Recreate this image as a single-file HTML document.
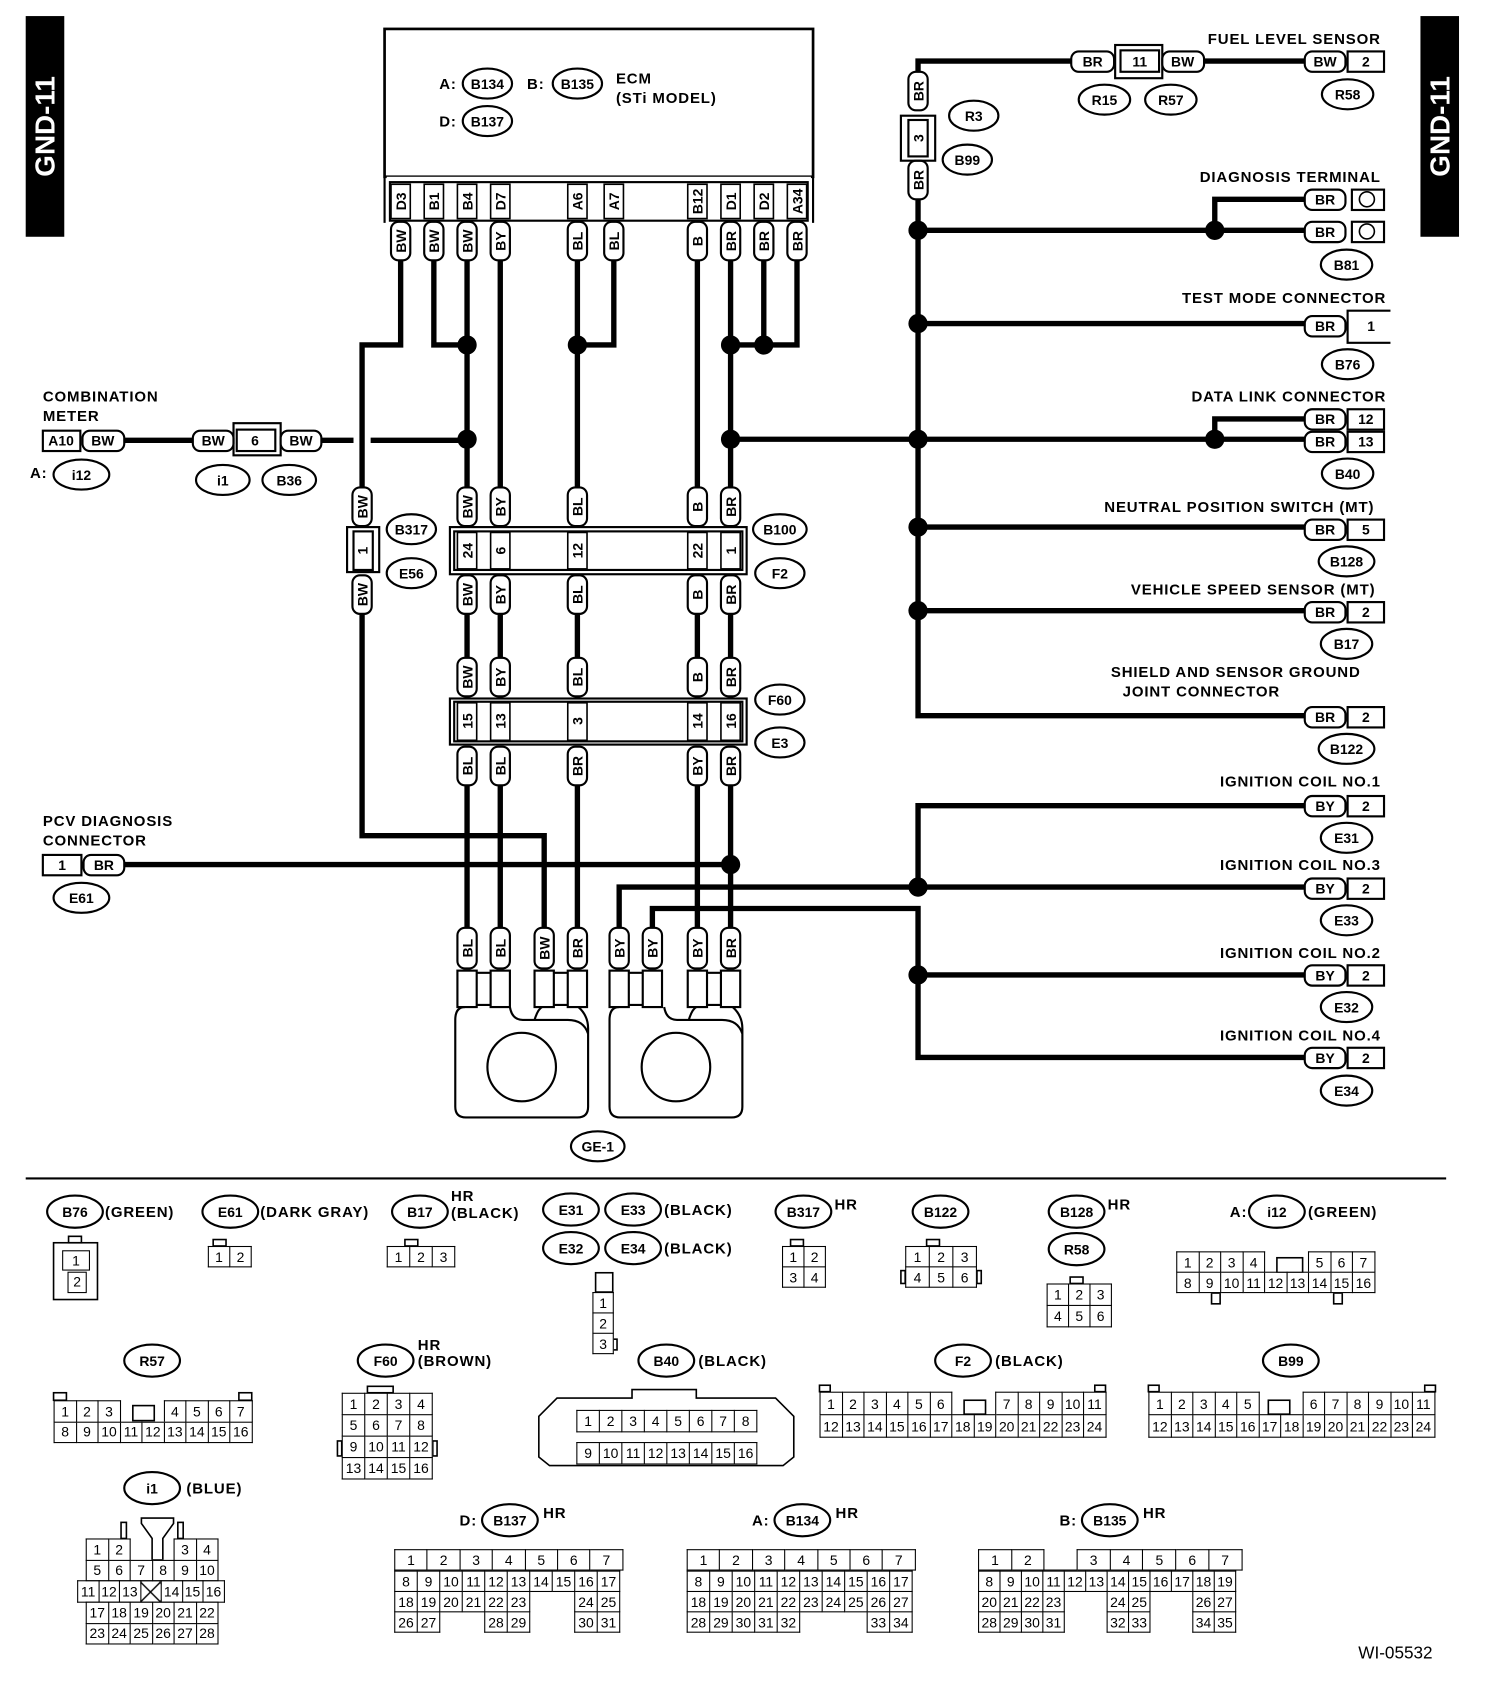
<!DOCTYPE html>
<html><head><meta charset="utf-8">
<style>
html,body{margin:0;padding:0;background:#fff;}
body{width:1504px;height:1682px;overflow:hidden;position:relative;}
#c{position:absolute;left:0;top:0;width:1404px;height:1570px;transform:scale(1.07123,1.07134);transform-origin:0 0;font-family:"Liberation Sans",Arial,sans-serif;}
svg{position:absolute;left:0;top:0;}
svg text{font-family:"Liberation Sans",Arial,sans-serif;font-weight:bold;font-size:13px;fill:#000;}
svg .lb text{font-size:14px;letter-spacing:0.8px;}
.w{fill:none;stroke:#000;stroke-width:5;}
.o{fill:#fff;stroke:#000;stroke-width:2;}
.l{fill:none;stroke:#000;stroke-width:1.5;}
table.g{position:absolute;border-collapse:collapse;table-layout:fixed;}
table.g td{border:1.5px solid #000;padding:0;text-align:center;font-size:13px;line-height:1;width:var(--w,20px);height:var(--h,19px);background:#fff;}
table.g td.e{border:none;border-bottom:1.5px solid #000;background:transparent;}
table.g td.n{border:none;background:transparent;}
</style></head><body><div id="c">
<svg width="1404" height="1570" viewBox="0 0 1404 1570">
<rect x="24" y="15" width="36" height="206" fill="#000"/>
<text transform="translate(51,118) rotate(-90)" text-anchor="middle" style="font-size:26px;fill:#fff">GND-11</text>
<rect x="1326" y="15" width="36" height="206" fill="#000"/>
<text transform="translate(1353,118) rotate(-90)" text-anchor="middle" style="font-size:26px;fill:#fff">GND-11</text>

<rect x="359" y="27" width="400" height="138" class="o" style="stroke-width:2.5"/>
<rect x="361" y="165" width="396" height="8" fill="#fff" stroke="none"/>
<path d="M359 165 V208 M759 165 V208" class="l" style="stroke-width:2"/>
<rect x="364" y="170" width="390" height="36" class="o"/>
<g class="lb"><text x="410" y="83">A:</text><text x="492" y="83">B:</text><text x="410" y="118">D:</text>
<text x="575" y="78">ECM</text><text x="575" y="96">(STi MODEL)</text></g>

<path class="w" d="M374 243V322H338V455 M338 572V780H508V866 M405 243V322H436 M436 243V455 M467 243V455 M539 243V455 M573 243V322H539 M651 243V455 M682 243V455 M713 243V322 M744 243V322H682
M436 572V614 M467 572V614 M539 572V614 M651 572V614 M682 572V614
M436 733V866 M467 733V866 M539 733V866 M651 733V866 M682 733V866
M300 411H330 M346 411H436 M116 411H180 M682 410H1218 M1134 410V391H1218
M116 807H682
M857 67V57H1000 M1124 57H1218 M857 186V668H1218
M857 215H1218 M1134 215V186H1218 M857 302H1218 M857 492H1218 M857 570H1218
M1218 752H857V828 M578 866V828H1218 M609 866V848H857V987H1218 M857 910H1218"/>
<g fill="#000">
<circle cx="436" cy="322" r="9"/><circle cx="539" cy="322" r="9"/><circle cx="682" cy="322" r="9"/><circle cx="713" cy="322" r="9"/>
<circle cx="436" cy="410" r="9"/><circle cx="682" cy="410" r="9"/><circle cx="857" cy="410" r="9"/><circle cx="1134" cy="410" r="9"/>
<circle cx="857" cy="215" r="9"/><circle cx="1134" cy="215" r="9"/><circle cx="857" cy="302" r="9"/><circle cx="857" cy="492" r="9"/>
<circle cx="857" cy="570" r="9"/><circle cx="682" cy="807" r="9"/><circle cx="857" cy="828" r="9"/><circle cx="857" cy="910" r="9"/>
</g>

<g class="l">
<rect x="365" y="172" width="18" height="32"/><rect x="396" y="172" width="18" height="32"/><rect x="427" y="172" width="18" height="32"/><rect x="458" y="172" width="18" height="32"/>
<rect x="530" y="172" width="18" height="32"/><rect x="564" y="172" width="18" height="32"/><rect x="642" y="172" width="18" height="32"/><rect x="673" y="172" width="18" height="32"/>
<rect x="704" y="172" width="18" height="32"/><rect x="735" y="172" width="18" height="32"/>
</g>
<g text-anchor="middle">
<text transform="translate(379,188) rotate(-90)">D3</text><text transform="translate(410,188) rotate(-90)">B1</text><text transform="translate(441,188) rotate(-90)">B4</text><text transform="translate(472,188) rotate(-90)">D7</text>
<text transform="translate(544,188) rotate(-90)">A6</text><text transform="translate(578,188) rotate(-90)">A7</text><text transform="translate(656,188) rotate(-90)">B12</text><text transform="translate(687,188) rotate(-90)">D1</text>
<text transform="translate(718,188) rotate(-90)">D2</text><text transform="translate(749,188) rotate(-90)">A34</text>
</g>

<g class="o">
<rect x="365" y="207" width="18" height="36" rx="7"/><rect x="396" y="207" width="18" height="36" rx="7"/><rect x="427" y="207" width="18" height="36" rx="7"/><rect x="458" y="207" width="18" height="36" rx="7"/><rect x="530" y="207" width="18" height="36" rx="7"/><rect x="564" y="207" width="18" height="36" rx="7"/><rect x="642" y="207" width="18" height="36" rx="7"/><rect x="673" y="207" width="18" height="36" rx="7"/><rect x="704" y="207" width="18" height="36" rx="7"/><rect x="735" y="207" width="18" height="36" rx="7"/>
<rect x="329" y="455" width="18" height="36" rx="7"/><rect x="329" y="537" width="18" height="36" rx="7"/>
<rect x="427" y="455" width="18" height="36" rx="7"/><rect x="458" y="455" width="18" height="36" rx="7"/><rect x="530" y="455" width="18" height="36" rx="7"/><rect x="642" y="455" width="18" height="36" rx="7"/><rect x="673" y="455" width="18" height="36" rx="7"/>
<rect x="427" y="537" width="18" height="36" rx="7"/><rect x="458" y="537" width="18" height="36" rx="7"/><rect x="530" y="537" width="18" height="36" rx="7"/><rect x="642" y="537" width="18" height="36" rx="7"/><rect x="673" y="537" width="18" height="36" rx="7"/>
<rect x="427" y="614" width="18" height="36" rx="7"/><rect x="458" y="614" width="18" height="36" rx="7"/><rect x="530" y="614" width="18" height="36" rx="7"/><rect x="642" y="614" width="18" height="36" rx="7"/><rect x="673" y="614" width="18" height="36" rx="7"/>
<rect x="427" y="697" width="18" height="36" rx="7"/><rect x="458" y="697" width="18" height="36" rx="7"/><rect x="530" y="697" width="18" height="36" rx="7"/><rect x="642" y="697" width="18" height="36" rx="7"/><rect x="673" y="697" width="18" height="36" rx="7"/>
<rect x="427" y="866" width="18" height="38" rx="7"/><rect x="458" y="866" width="18" height="38" rx="7"/><rect x="499" y="866" width="18" height="38" rx="7"/><rect x="530" y="866" width="18" height="38" rx="7"/><rect x="569" y="866" width="18" height="38" rx="7"/><rect x="600" y="866" width="18" height="38" rx="7"/><rect x="642" y="866" width="18" height="38" rx="7"/><rect x="673" y="866" width="18" height="38" rx="7"/>
<rect x="848" y="67" width="18" height="36" rx="7"/><rect x="848" y="150" width="18" height="36" rx="7"/>
</g>
<g text-anchor="middle">
<text transform="translate(379,225) rotate(-90)">BW</text><text transform="translate(410,225) rotate(-90)">BW</text><text transform="translate(441,225) rotate(-90)">BW</text><text transform="translate(472,225) rotate(-90)">BY</text><text transform="translate(544,225) rotate(-90)">BL</text><text transform="translate(578,225) rotate(-90)">BL</text><text transform="translate(656,225) rotate(-90)">B</text><text transform="translate(687,225) rotate(-90)">BR</text><text transform="translate(718,225) rotate(-90)">BR</text><text transform="translate(749,225) rotate(-90)">BR</text>
<text transform="translate(343,473) rotate(-90)">BW</text><text transform="translate(343,555) rotate(-90)">BW</text>
<text transform="translate(441,473) rotate(-90)">BW</text><text transform="translate(472,473) rotate(-90)">BY</text><text transform="translate(544,473) rotate(-90)">BL</text><text transform="translate(656,473) rotate(-90)">B</text><text transform="translate(687,473) rotate(-90)">BR</text>
<text transform="translate(441,555) rotate(-90)">BW</text><text transform="translate(472,555) rotate(-90)">BY</text><text transform="translate(544,555) rotate(-90)">BL</text><text transform="translate(656,555) rotate(-90)">B</text><text transform="translate(687,555) rotate(-90)">BR</text>
<text transform="translate(441,632) rotate(-90)">BW</text><text transform="translate(472,632) rotate(-90)">BY</text><text transform="translate(544,632) rotate(-90)">BL</text><text transform="translate(656,632) rotate(-90)">B</text><text transform="translate(687,632) rotate(-90)">BR</text>
<text transform="translate(441,715) rotate(-90)">BL</text><text transform="translate(472,715) rotate(-90)">BL</text><text transform="translate(544,715) rotate(-90)">BR</text><text transform="translate(656,715) rotate(-90)">BY</text><text transform="translate(687,715) rotate(-90)">BR</text>
<text transform="translate(441,885) rotate(-90)">BL</text><text transform="translate(472,885) rotate(-90)">BL</text><text transform="translate(513,885) rotate(-90)">BW</text><text transform="translate(544,885) rotate(-90)">BR</text><text transform="translate(583,885) rotate(-90)">BY</text><text transform="translate(614,885) rotate(-90)">BY</text><text transform="translate(656,885) rotate(-90)">BY</text><text transform="translate(687,885) rotate(-90)">BR</text>
<text transform="translate(862,85) rotate(-90)">BR</text><text transform="translate(862,168) rotate(-90)">BR</text>
</g>

<rect x="324" y="492" width="30" height="42" class="l" style="stroke-width:2"/>
<rect x="330" y="496" width="18" height="36" class="o"/>
<text transform="translate(343,514) rotate(-90)" text-anchor="middle">1</text>
<rect x="420" y="492" width="277" height="44" class="l" style="stroke-width:2"/>
<rect x="424" y="496" width="269" height="36" class="o"/>
<g class="l"><rect x="427" y="497" width="18" height="34"/><rect x="458" y="497" width="18" height="34"/><rect x="530" y="497" width="18" height="34"/><rect x="642" y="497" width="18" height="34"/><rect x="673" y="497" width="18" height="34"/></g>
<g text-anchor="middle"><text transform="translate(441,514) rotate(-90)">24</text><text transform="translate(472,514) rotate(-90)">6</text><text transform="translate(544,514) rotate(-90)">12</text><text transform="translate(656,514) rotate(-90)">22</text><text transform="translate(687,514) rotate(-90)">1</text></g>
<rect x="420" y="652" width="277" height="43" class="l" style="stroke-width:2"/>
<rect x="424" y="655" width="269" height="37" class="o"/>
<g class="l"><rect x="427" y="656" width="18" height="35"/><rect x="458" y="656" width="18" height="35"/><rect x="530" y="656" width="18" height="35"/><rect x="642" y="656" width="18" height="35"/><rect x="673" y="656" width="18" height="35"/></g>
<g text-anchor="middle"><text transform="translate(441,673) rotate(-90)">15</text><text transform="translate(472,673) rotate(-90)">13</text><text transform="translate(544,673) rotate(-90)">3</text><text transform="translate(656,673) rotate(-90)">14</text><text transform="translate(687,673) rotate(-90)">16</text></g>
<rect x="841" y="108" width="32" height="42" class="l" style="stroke-width:2"/>
<rect x="848" y="112" width="18" height="34" class="o"/>
<text transform="translate(862,129) rotate(-90)" text-anchor="middle">3</text>

<rect x="40" y="402" width="35" height="19" class="o"/><text x="57" y="416" text-anchor="middle">A10</text>
<rect x="77" y="402" width="39" height="19" rx="7" class="o"/><text x="96" y="416" text-anchor="middle">BW</text>
<rect x="180" y="402" width="38" height="19" rx="7" class="o"/><text x="199" y="416" text-anchor="middle">BW</text>
<rect x="218" y="395" width="44" height="30" class="l" style="stroke-width:2"/>
<rect x="221" y="401" width="36" height="20" class="o"/><text x="238" y="416" text-anchor="middle">6</text>
<rect x="262" y="402" width="38" height="19" rx="7" class="o"/><text x="281" y="416" text-anchor="middle">BW</text>
<rect x="40" y="798" width="36" height="19" class="o"/><text x="58" y="812" text-anchor="middle">1</text>
<rect x="78" y="798" width="38" height="19" rx="7" class="o"/><text x="97" y="812" text-anchor="middle">BR</text>

<rect x="1000" y="48" width="40" height="19" rx="7" class="o"/><text x="1020" y="62" text-anchor="middle">BR</text>
<rect x="1041" y="42" width="44" height="31" class="l" style="stroke-width:2"/>
<rect x="1046" y="47" width="36" height="20" class="o"/><text x="1064" y="62" text-anchor="middle">11</text>
<rect x="1085" y="48" width="39" height="19" rx="7" class="o"/><text x="1104" y="62" text-anchor="middle">BW</text>

<g class="o">
<rect x="1218" y="48" width="38" height="19" rx="7"/><rect x="1258" y="48" width="34" height="19"/>
<rect x="1218" y="177" width="38" height="19" rx="7"/><rect x="1262" y="177" width="30" height="19"/>
<rect x="1218" y="207" width="38" height="19" rx="7"/><rect x="1262" y="207" width="30" height="19"/>
<rect x="1218" y="295" width="38" height="19" rx="7"/>
<rect x="1218" y="382" width="38" height="19" rx="7"/><rect x="1258" y="382" width="34" height="19"/>
<rect x="1218" y="403" width="38" height="19" rx="7"/><rect x="1258" y="403" width="34" height="19"/>
<rect x="1218" y="485" width="38" height="19" rx="7"/><rect x="1258" y="485" width="34" height="19"/>
<rect x="1218" y="562" width="38" height="19" rx="7"/><rect x="1258" y="562" width="34" height="19"/>
<rect x="1218" y="660" width="38" height="19" rx="7"/><rect x="1258" y="660" width="34" height="19"/>
<rect x="1218" y="743" width="38" height="19" rx="7"/><rect x="1258" y="743" width="34" height="19"/>
<rect x="1218" y="820" width="38" height="19" rx="7"/><rect x="1258" y="820" width="34" height="19"/>
<rect x="1218" y="901" width="38" height="19" rx="7"/><rect x="1258" y="901" width="34" height="19"/>
<rect x="1218" y="978" width="38" height="19" rx="7"/><rect x="1258" y="978" width="34" height="19"/>
</g>
<path d="M1298 290 H1258 V320 H1298" class="l" style="stroke-width:2"/>
<circle cx="1276" cy="186" r="7" class="l"/><circle cx="1276" cy="216" r="7" class="l"/>
<g text-anchor="middle">
<text x="1237" y="62">BW</text><text x="1275" y="62">2</text>
<text x="1237" y="191">BR</text><text x="1237" y="221">BR</text>
<text x="1237" y="309">BR</text><text x="1280" y="309">1</text>
<text x="1237" y="396">BR</text><text x="1275" y="396">12</text>
<text x="1237" y="417">BR</text><text x="1275" y="417">13</text>
<text x="1237" y="499">BR</text><text x="1275" y="499">5</text>
<text x="1237" y="576">BR</text><text x="1275" y="576">2</text>
<text x="1237" y="674">BR</text><text x="1275" y="674">2</text>
<text x="1237" y="757">BY</text><text x="1275" y="757">2</text>
<text x="1237" y="834">BY</text><text x="1275" y="834">2</text>
<text x="1237" y="915">BY</text><text x="1275" y="915">2</text>
<text x="1237" y="992">BY</text><text x="1275" y="992">2</text>
</g>
<g class="lb">
<g text-anchor="end">
<text x="1289" y="41">FUEL LEVEL SENSOR</text>
<text x="1289" y="170">DIAGNOSIS TERMINAL</text>
<text x="1294" y="283">TEST MODE CONNECTOR</text>
<text x="1294" y="375">DATA LINK CONNECTOR</text>
<text x="1283" y="478">NEUTRAL POSITION SWITCH (MT)</text>
<text x="1284" y="555">VEHICLE SPEED SENSOR (MT)</text>
<text x="1289" y="734">IGNITION COIL NO.1</text>
<text x="1289" y="812">IGNITION COIL NO.3</text>
<text x="1289" y="894">IGNITION COIL NO.2</text>
<text x="1289" y="971">IGNITION COIL NO.4</text>
</g>
<text x="1037" y="632">SHIELD AND SENSOR GROUND</text>
<text x="1048" y="650">JOINT CONNECTOR</text>
<text x="40" y="375">COMBINATION</text><text x="40" y="393">METER</text>
<text x="28" y="446">A:</text>
<text x="40" y="771">PCV DIAGNOSIS</text><text x="40" y="789">CONNECTOR</text>
</g>

<g class="l" style="stroke-width:2">
<rect x="427" y="906" width="18" height="34"/><rect x="458" y="906" width="18" height="34"/><rect x="499" y="906" width="18" height="34"/><rect x="530" y="906" width="18" height="34"/>
<rect x="569" y="906" width="18" height="34"/><rect x="600" y="906" width="18" height="34"/><rect x="642" y="906" width="18" height="34"/><rect x="673" y="906" width="18" height="34"/>
<path d="M445 908H458 M445 938H458 M517 908H530 M517 938H530 M587 908H600 M587 938H600 M660 908H673 M660 938H673"/>
<path d="M434 940 Q425 940 425 952 V1033 Q425 1043 435 1043 H539 Q549 1043 549 1033 V960 Q549 948 540 940 M476 940 Q478 952 488 952 H530 Q545 952 549 965 M499 952 Q502 942 506 940"/>
<path d="M578 940 Q569 940 569 952 V1033 Q569 1043 579 1043 H683 Q693 1043 693 1033 V960 Q693 948 684 940 M620 940 Q622 952 632 952 H674 Q689 952 693 965 M643 952 Q646 942 650 940"/>
<circle cx="487" cy="996" r="32"/><circle cx="631" cy="996" r="32"/>
</g>
<line x1="24" y1="1100" x2="1350" y2="1100" stroke="#000" stroke-width="2"/>

<g class="o">
<ellipse cx="455" cy="78" rx="23" ry="14"/><ellipse cx="539" cy="78" rx="23" ry="14"/><ellipse cx="455" cy="113" rx="23" ry="14"/>
<ellipse cx="76" cy="443" rx="26" ry="14"/><ellipse cx="208" cy="448" rx="25" ry="14"/><ellipse cx="270" cy="448" rx="25" ry="14"/>
<ellipse cx="384" cy="494" rx="23" ry="14"/><ellipse cx="384" cy="535" rx="23" ry="14"/><ellipse cx="728" cy="494" rx="25" ry="14"/><ellipse cx="728" cy="535" rx="23" ry="14"/>
<ellipse cx="728" cy="653" rx="23" ry="14"/><ellipse cx="728" cy="693" rx="23" ry="14"/><ellipse cx="76" cy="838" rx="26" ry="14"/><ellipse cx="558" cy="1070" rx="25" ry="14"/>
<ellipse cx="909" cy="108" rx="23" ry="14"/><ellipse cx="903" cy="149" rx="23" ry="14"/><ellipse cx="1031" cy="93" rx="24" ry="14"/><ellipse cx="1093" cy="93" rx="24" ry="14"/><ellipse cx="1258" cy="88" rx="24" ry="14"/>
<ellipse cx="1257" cy="247" rx="24" ry="14"/><ellipse cx="1258" cy="340" rx="24" ry="14"/><ellipse cx="1258" cy="442" rx="24" ry="14"/><ellipse cx="1257" cy="524" rx="26" ry="14"/>
<ellipse cx="1257" cy="601" rx="24" ry="14"/><ellipse cx="1257" cy="699" rx="26" ry="14"/><ellipse cx="1257" cy="782" rx="24" ry="14"/><ellipse cx="1257" cy="859" rx="24" ry="14"/><ellipse cx="1257" cy="940" rx="24" ry="14"/><ellipse cx="1257" cy="1018" rx="24" ry="14"/>
<ellipse cx="70" cy="1131" rx="26" ry="15"/><ellipse cx="215" cy="1131" rx="26" ry="15"/><ellipse cx="392" cy="1131" rx="26" ry="15"/>
<ellipse cx="533" cy="1129" rx="26" ry="15"/><ellipse cx="591" cy="1129" rx="26" ry="15"/><ellipse cx="533" cy="1165" rx="26" ry="15"/><ellipse cx="591" cy="1165" rx="26" ry="15"/>
<ellipse cx="750" cy="1131" rx="26" ry="15"/><ellipse cx="878" cy="1131" rx="26" ry="15"/><ellipse cx="1005" cy="1131" rx="26" ry="15"/><ellipse cx="1005" cy="1166" rx="26" ry="15"/><ellipse cx="1192" cy="1131" rx="26" ry="15"/>
<ellipse cx="142" cy="1270" rx="26" ry="15"/><ellipse cx="360" cy="1270" rx="26" ry="15"/><ellipse cx="622" cy="1270" rx="26" ry="15"/><ellipse cx="899" cy="1270" rx="26" ry="15"/><ellipse cx="1205" cy="1270" rx="26" ry="15"/>
<ellipse cx="142" cy="1389" rx="26" ry="15"/><ellipse cx="476" cy="1419" rx="26" ry="15"/><ellipse cx="749" cy="1419" rx="26" ry="15"/><ellipse cx="1036" cy="1419" rx="26" ry="15"/>
</g>
<g text-anchor="middle">
<text x="455" y="83">B134</text><text x="539" y="83">B135</text><text x="455" y="118">B137</text>
<text x="76" y="448">i12</text><text x="208" y="453">i1</text><text x="270" y="453">B36</text>
<text x="384" y="499">B317</text><text x="384" y="540">E56</text><text x="728" y="499">B100</text><text x="728" y="540">F2</text>
<text x="728" y="658">F60</text><text x="728" y="698">E3</text><text x="76" y="843">E61</text><text x="558" y="1075">GE-1</text>
<text x="909" y="113">R3</text><text x="903" y="154">B99</text><text x="1031" y="98">R15</text><text x="1093" y="98">R57</text><text x="1258" y="93">R58</text>
<text x="1257" y="252">B81</text><text x="1258" y="345">B76</text><text x="1258" y="447">B40</text><text x="1257" y="529">B128</text>
<text x="1257" y="606">B17</text><text x="1257" y="704">B122</text><text x="1257" y="787">E31</text><text x="1257" y="864">E33</text><text x="1257" y="945">E32</text><text x="1257" y="1023">E34</text>
<text x="70" y="1136">B76</text><text x="215" y="1136">E61</text><text x="392" y="1136">B17</text>
<text x="533" y="1134">E31</text><text x="591" y="1134">E33</text><text x="533" y="1170">E32</text><text x="591" y="1170">E34</text>
<text x="750" y="1136">B317</text><text x="878" y="1136">B122</text><text x="1005" y="1136">B128</text><text x="1005" y="1171">R58</text><text x="1192" y="1136">i12</text>
<text x="142" y="1275">R57</text><text x="360" y="1275">F60</text><text x="622" y="1275">B40</text><text x="899" y="1275">F2</text><text x="1205" y="1275">B99</text>
<text x="142" y="1394">i1</text><text x="476" y="1424">B137</text><text x="749" y="1424">B134</text><text x="1036" y="1424">B135</text>
</g>
<g class="lb">
<text x="98" y="1136">(GREEN)</text><text x="243" y="1136">(DARK GRAY)</text><text x="421" y="1121">HR</text><text x="421" y="1137">(BLACK)</text>
<text x="620" y="1134">(BLACK)</text><text x="620" y="1170">(BLACK)</text><text x="779" y="1129">HR</text><text x="1034" y="1129">HR</text>
<text x="1148" y="1136">A:</text><text x="1221" y="1136">(GREEN)</text>
<text x="390" y="1260">HR</text><text x="390" y="1275">(BROWN)</text><text x="652" y="1275">(BLACK)</text><text x="929" y="1275">(BLACK)</text>
<text x="174" y="1394">(BLUE)</text>
<text x="429" y="1424">D:</text><text x="507" y="1417">HR</text>
<text x="702" y="1424">A:</text><text x="780" y="1417">HR</text>
<text x="989" y="1424">B:</text><text x="1067" y="1417">HR</text>
</g>
<text x="1268" y="1548" style="font-weight:normal;font-size:16px">WI-05532</text>
<g class="l">
<rect x="50" y="1160" width="41" height="53"/><rect x="64" y="1154" width="12" height="6"/>
<rect x="199" y="1157" width="12" height="6"/><rect x="378" y="1157" width="12" height="6"/>
<rect x="738" y="1157" width="12" height="6"/>
<rect x="556" y="1188" width="16" height="18"/><rect x="572" y="1250" width="4" height="10"/>
<rect x="865" y="1157" width="12" height="6"/><rect x="841" y="1186" width="4" height="12"/><rect x="912" y="1186" width="4" height="12"/>
<rect x="999" y="1192" width="12" height="6"/>
<rect x="1192" y="1174" width="24" height="14"/><rect x="1131" y="1207" width="8" height="10"/><rect x="1245" y="1207" width="8" height="10"/>
<rect x="124" y="1312" width="20" height="14"/><rect x="50" y="1300" width="12" height="7"/><rect x="223" y="1300" width="12" height="7"/>
<rect x="343" y="1294" width="24" height="6"/><rect x="315" y="1345" width="4" height="14"/><rect x="404" y="1345" width="4" height="14"/>
<path d="M503 1322 L520 1305 H590 V1297 H650 V1305 H724 L741 1322 V1360 L731 1368 H513 L503 1360 Z"/>
<rect x="900" y="1307" width="20" height="13"/><rect x="765" y="1293" width="10" height="6"/><rect x="1022" y="1293" width="10" height="6"/>
<rect x="1184" y="1307" width="20" height="13"/><rect x="1072" y="1293" width="10" height="6"/><rect x="1330" y="1293" width="10" height="6"/>
<path d="M132 1417 H162 V1422 L152 1436 V1456 H142 V1436 L132 1422 Z"/><rect x="113" y="1421" width="5" height="15"/><rect x="166" y="1421" width="5" height="15"/>
</g>
</svg>

<div style="position:absolute;left:58px;top:1167px;width:26px;height:19px;border:1.5px solid #000;box-sizing:border-box;text-align:center;font-size:13px;line-height:17px">1</div>
<div style="position:absolute;left:63px;top:1187px;width:18px;height:20px;border:1.5px solid #000;box-sizing:border-box;text-align:center;font-size:13px;line-height:18px">2</div>
<table class="g" style="left:194px;top:1163px;--w:19px;--h:18px"><tr><td>1</td><td>2</td></tr></table>
<table class="g" style="left:361px;top:1163px;--w:20px;--h:18px"><tr><td>1</td><td>2</td><td>3</td></tr></table>
<table class="g" style="left:553px;top:1206px;--w:18px;--h:18px"><tr><td>1</td></tr><tr><td>2</td></tr><tr><td>3</td></tr></table>
<table class="g" style="left:730px;top:1163px;--w:19px;--h:18px"><tr><td>1</td><td>2</td></tr><tr><td>3</td><td>4</td></tr></table>
<table class="g" style="left:845px;top:1163px;--w:21px;--h:18px"><tr><td>1</td><td>2</td><td>3</td></tr><tr><td>4</td><td>5</td><td>6</td></tr></table>
<table class="g" style="left:977px;top:1198px;--w:19px;--h:19px"><tr><td>1</td><td>2</td><td>3</td></tr><tr><td>4</td><td>5</td><td>6</td></tr></table>
<table class="g" style="left:1098px;top:1168px;--w:19.5px;--h:18px"><tr><td>1</td><td>2</td><td>3</td><td>4</td><td class="e" colspan="2"></td><td>5</td><td>6</td><td>7</td></tr><tr><td>8</td><td>9</td><td>10</td><td>11</td><td>12</td><td>13</td><td>14</td><td>15</td><td>16</td></tr></table>
<table class="g" style="left:50px;top:1307px;--w:19.5px;--h:18.5px"><tr><td>1</td><td>2</td><td>3</td><td class="e" colspan="2"></td><td>4</td><td>5</td><td>6</td><td>7</td></tr><tr><td>8</td><td>9</td><td>10</td><td>11</td><td>12</td><td>13</td><td>14</td><td>15</td><td>16</td></tr></table>
<table class="g" style="left:319px;top:1300px;--w:20px;--h:19px"><tr><td>1</td><td>2</td><td>3</td><td>4</td></tr><tr><td>5</td><td>6</td><td>7</td><td>8</td></tr><tr><td>9</td><td>10</td><td>11</td><td>12</td></tr><tr><td>13</td><td>14</td><td>15</td><td>16</td></tr></table>
<table class="g" style="left:538px;top:1316px;--w:20px;--h:19px"><tr><td>1</td><td>2</td><td>3</td><td>4</td><td>5</td><td>6</td><td>7</td><td>8</td></tr></table>
<table class="g" style="left:538px;top:1346px;--w:20px;--h:19px"><tr><td>9</td><td>10</td><td>11</td><td>12</td><td>13</td><td>14</td><td>15</td><td>16</td></tr></table>
<table class="g" style="left:765px;top:1299px;--w:19.5px;--h:20px"><tr><td>1</td><td>2</td><td>3</td><td>4</td><td>5</td><td>6</td><td class="e" colspan="2"></td><td>7</td><td>8</td><td>9</td><td>10</td><td>11</td></tr><tr><td>12</td><td>13</td><td>14</td><td>15</td><td>16</td><td>17</td><td>18</td><td>19</td><td>20</td><td>21</td><td>22</td><td>23</td><td>24</td></tr></table>
<table class="g" style="left:1072px;top:1299px;--w:19.5px;--h:20px"><tr><td>1</td><td>2</td><td>3</td><td>4</td><td>5</td><td class="e" colspan="2"></td><td>6</td><td>7</td><td>8</td><td>9</td><td>10</td><td>11</td></tr><tr><td>12</td><td>13</td><td>14</td><td>15</td><td>16</td><td>17</td><td>18</td><td>19</td><td>20</td><td>21</td><td>22</td><td>23</td><td>24</td></tr></table>
<table class="g" style="left:80px;top:1436px;--w:19.5px;--h:18.5px"><tr><td>1</td><td>2</td><td class="n" colspan="2"></td><td>3</td><td>4</td></tr><tr><td>5</td><td>6</td><td>7</td><td>8</td><td>9</td><td>10</td></tr></table>
<table class="g" style="left:72px;top:1475px;--w:18.5px;--h:18.5px"><tr><td>11</td><td>12</td><td>13</td><td style="background:linear-gradient(45deg,transparent 47%,#000 48%,#000 52%,transparent 53%),linear-gradient(-45deg,transparent 47%,#000 48%,#000 52%,transparent 53%)"></td><td>14</td><td>15</td><td>16</td></tr></table>
<table class="g" style="left:80px;top:1495px;--w:19.5px;--h:18.5px"><tr><td>17</td><td>18</td><td>19</td><td>20</td><td>21</td><td>22</td></tr><tr><td>23</td><td>24</td><td>25</td><td>26</td><td>27</td><td>28</td></tr></table>
<table class="g" style="left:368px;top:1446px;--w:29.4px;--h:18px"><tr><td>1</td><td>2</td><td>3</td><td>4</td><td>5</td><td>6</td><td>7</td></tr></table>
<table class="g" style="left:368px;top:1466px;--w:20px;--h:18px"><tr><td>8</td><td>9</td><td>10</td><td>11</td><td>12</td><td>13</td><td>14</td><td>15</td><td>16</td><td>17</td></tr><tr><td>18</td><td>19</td><td>20</td><td>21</td><td>22</td><td>23</td><td class="n" colspan="2"></td><td>24</td><td>25</td></tr><tr><td>26</td><td>27</td><td class="n" colspan="2"></td><td>28</td><td>29</td><td class="n" colspan="2"></td><td>30</td><td>31</td></tr></table>
<table class="g" style="left:641px;top:1446px;--w:29.4px;--h:18px"><tr><td>1</td><td>2</td><td>3</td><td>4</td><td>5</td><td>6</td><td>7</td></tr></table>
<table class="g" style="left:641px;top:1466px;--w:20px;--h:18px"><tr><td>8</td><td>9</td><td>10</td><td>11</td><td>12</td><td>13</td><td>14</td><td>15</td><td>16</td><td>17</td></tr><tr><td>18</td><td>19</td><td>20</td><td>21</td><td>22</td><td>23</td><td>24</td><td>25</td><td>26</td><td>27</td></tr><tr><td>28</td><td>29</td><td>30</td><td>31</td><td>32</td><td class="n" colspan="3"></td><td>33</td><td>34</td></tr></table>
<table class="g" style="left:913px;top:1446px;--w:29.7px;--h:18px"><tr><td>1</td><td>2</td><td class="e"></td><td>3</td><td>4</td><td>5</td><td>6</td><td>7</td></tr></table>
<table class="g" style="left:913px;top:1466px;--w:19px;--h:18px"><tr><td>8</td><td>9</td><td>10</td><td>11</td><td>12</td><td>13</td><td>14</td><td>15</td><td>16</td><td>17</td><td>18</td><td>19</td></tr><tr><td>20</td><td>21</td><td>22</td><td>23</td><td class="n" colspan="2"></td><td>24</td><td>25</td><td class="n" colspan="2"></td><td>26</td><td>27</td></tr><tr><td>28</td><td>29</td><td>30</td><td>31</td><td class="n" colspan="2"></td><td>32</td><td>33</td><td class="n" colspan="2"></td><td>34</td><td>35</td></tr></table>
</div></body></html>
